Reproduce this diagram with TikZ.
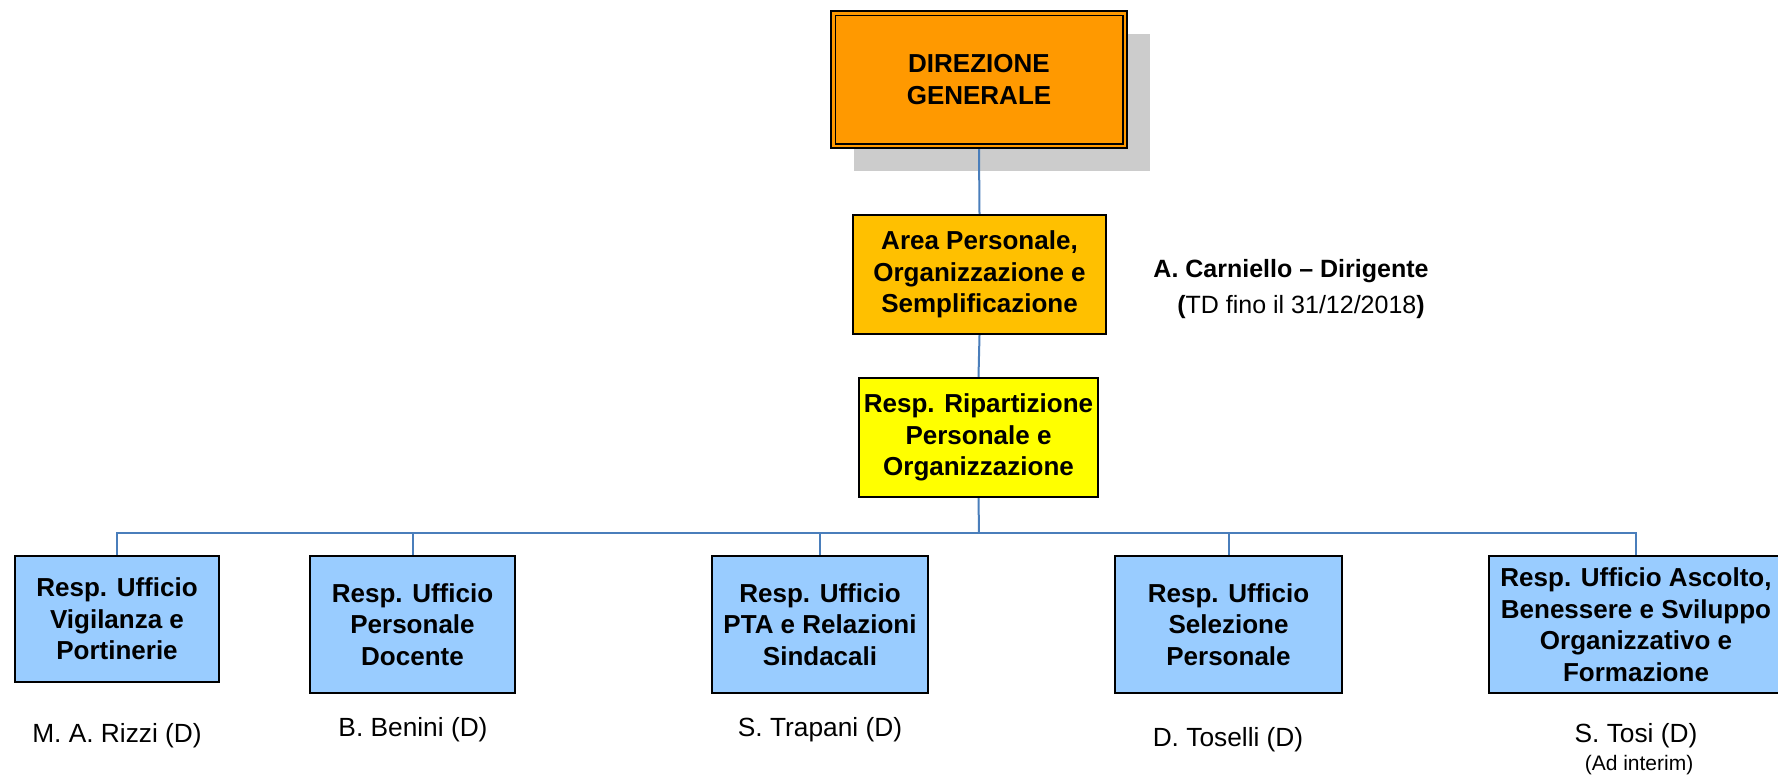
\documentclass[tikz,border=0pt]{standalone}
\usepackage{fontspec}
\setmainfont{Liberation Sans}
\definecolor{dgorange}{HTML}{FF9900}
\definecolor{areagold}{HTML}{FFC000}
\definecolor{ripyellow}{HTML}{FFFF00}
\definecolor{ufficioblue}{HTML}{99CCFF}
\definecolor{shadowgray}{HTML}{CCCCCC}
\definecolor{linkblue}{HTML}{4A7EBB}
\begin{document}
\begin{tikzpicture}[x=1pt,y=-1pt,
  box/.style={draw=black, line width=2.2pt, inner sep=0pt, align=center,
    font=\bfseries\fontsize{26}{31.5}\selectfont},
  ufficio/.style={box, fill=ufficioblue, minimum height=137pt},
  person/.style={font=\fontsize{26.3}{30}\selectfont, inner sep=0pt, anchor=base},
  link/.style={draw=linkblue, line width=2pt}]
\useasboundingbox (0,0) rectangle (1778,780);
% shadow of top box
\fill[shadowgray] (854,34) rectangle (1150,171);
\node[box, fill=dgorange, minimum width=296pt, minimum height=137pt] (dg) at (979,79.5) {DIREZIONE\\GENERALE};
\draw[line width=1.8pt] ([shift={(5.5,5.5)}]dg.north west) rectangle ([shift={(-5.5,-5.5)}]dg.south east);
\node[box, fill=areagold, minimum width=253pt, minimum height=119pt] (area) at (979.5,274.5) {Area Personale,\\Organizzazione e\\Semplificazione};
\node[box, fill=ripyellow, minimum width=239pt, minimum height=119pt] (rip) at (978.5,437.5) {Resp. Ripartizione\\Personale e\\Organizzazione};
\node[font=\bfseries\fontsize{25}{30}\selectfont, inner sep=0pt, anchor=base] (carn) at (1291,277) {A. Carniello – Dirigente};
\node[font=\fontsize{25}{30}\selectfont, inner sep=0pt, anchor=base] (td) at (1301,313) {\textbf{(}TD fino il 31/12/2018\textbf{)}};
% office boxes
\node[ufficio, minimum width=204pt, minimum height=126pt] (u1) at (117,619) {Resp. Ufficio\\Vigilanza e\\Portinerie};
\node[ufficio, minimum width=205pt] (u2) at (412.5,624.5) {Resp. Ufficio\\Personale\\Docente};
\node[ufficio, minimum width=216pt] (u3) at (820,624.5) {Resp. Ufficio\\PTA e Relazioni\\Sindacali};
\node[ufficio, minimum width=227pt] (u4) at (1228.5,624.5) {Resp. Ufficio\\Selezione\\Personale};
\node[ufficio, minimum width=294pt] (u5) at (1636,624.5) {Resp. Ufficio Ascolto,\\Benessere e Sviluppo\\Organizzativo e\\Formazione};
% connectors
\coordinate (bus) at (979,533);
\draw[link] (dg.south) -- (area.north);
\draw[link] (area.south) -- (rip.north);
\draw[link] (rip.south) -- (bus);
\draw[link] (u1.north) -- (u1.north |- bus) -- (u5.north |- bus) -- (u5.north);
\draw[link] (u2.north) -- (u2.north |- bus);
\draw[link] (u3.north) -- (u3.north |- bus);
\draw[link] (u4.north) -- (u4.north |- bus);
% names
\node[person] (n1) at (117,742) {M. A. Rizzi (D)};
\node[person] (n2) at (413,736) {B. Benini (D)};
\node[person] (n3) at (820,736) {S. Trapani (D)};
\node[person] (n4) at (1228,746) {D. Toselli (D)};
\node[person] (n5) at (1636,742) {S. Tosi (D)};
\node[person, font=\fontsize{21}{25}\selectfont] (n5b) at (1639,770) {(Ad interim)};
\end{tikzpicture}
\end{document}
